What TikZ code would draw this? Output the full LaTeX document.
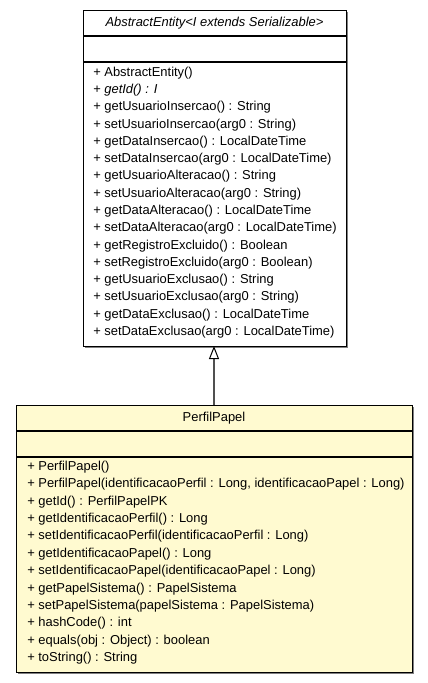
\documentclass[tikz,border=0pt]{standalone}
\usepackage{fontspec}
\setmainfont{Liberation Sans}
\usetikzlibrary{arrows.meta}
\definecolor{classfill}{RGB}{255,250,208}
\definecolor{shadowgray}{RGB}{128,128,128}
\definecolor{linkgray}{RGB}{80,80,80}
\begin{document}
\begin{tikzpicture}[x=0.75pt,y=-0.75pt,
  umlfont/.style={font=\fontsize{9.7}{11}\selectfont},
  member/.style={umlfont, anchor=west, inner sep=0pt},
  classname/.style={umlfont, inner sep=0pt},
  classbox/.style={draw=black, line width=0.75pt, anchor=north west,
    inner sep=0pt, outer sep=0pt},
  boxshadow/.style={fill=shadowgray, draw=none},
  compartment/.style={line width=1.2pt},
  generalization/.style={draw=linkgray, line width=1.4pt,
    -{Triangle[open, length=9.75pt, width=7.5pt, line width=0.75pt, color=black, fill=white]}}]
\useasboundingbox (0,0) rectangle (428,683);
\fill[white] (0,0) rectangle (428,683);

% AbstractEntity class
\fill[boxshadow] (85,12) rectangle (348,348);
\node[classbox, fill=white, minimum width=197.25pt, minimum height=252pt] (entity) at (83,10) {};
\draw[compartment] (83,36) -- (346,36);
\draw[compartment] (83,62) -- (346,62);
\node[classname] (entityname) at (214.5,23) {\itshape AbstractEntity<I extends Serializable>};
\foreach [count=\i from 0] \txt in {
  {+ AbstractEntity()},
  {+ \textit{getId() : I}},
  {+ getUsuarioInsercao() : String},
  {+ setUsuarioInsercao(arg0 : String)},
  {+ getDataInsercao() : LocalDateTime},
  {+ setDataInsercao(arg0 : LocalDateTime)},
  {+ getUsuarioAlteracao() : String},
  {+ setUsuarioAlteracao(arg0 : String)},
  {+ getDataAlteracao() : LocalDateTime},
  {+ setDataAlteracao(arg0 : LocalDateTime)},
  {+ getRegistroExcluido() : Boolean},
  {+ setRegistroExcluido(arg0 : Boolean)},
  {+ getUsuarioExclusao() : String},
  {+ setUsuarioExclusao(arg0 : String)},
  {+ getDataExclusao() : LocalDateTime},
  {+ setDataExclusao(arg0 : LocalDateTime)}}
  \node[member] (em\i) at (93,{73+17.27*\i}) {\txt};

% PerfilPapel class
\fill[boxshadow] (18,407) rectangle (414,674);
\node[classbox, fill=classfill, minimum width=297pt, minimum height=200.25pt] (papel) at (16,405) {};
\draw[compartment] (16,431) -- (412,431);
\draw[compartment] (16,457) -- (412,457);
\node[classname] (papelname) at (214,418) {PerfilPapel};
\foreach [count=\i from 0] \txt in {
  {+ PerfilPapel()},
  {+ PerfilPapel(identificacaoPerfil : Long, identificacaoPapel : Long)},
  {+ getId() : PerfilPapelPK},
  {+ getIdentificacaoPerfil() : Long},
  {+ setIdentificacaoPerfil(identificacaoPerfil : Long)},
  {+ getIdentificacaoPapel() : Long},
  {+ setIdentificacaoPapel(identificacaoPapel : Long)},
  {+ getPapelSistema() : PapelSistema},
  {+ setPapelSistema(papelSistema : PapelSistema)},
  {+ hashCode() : int},
  {+ equals(obj : Object) : boolean},
  {+ toString() : String}}
  \node[member] (pm\i) at (27,{467+17.4*\i}) {\txt};

% inheritance
\draw[generalization] (papel.north) -- (papel.north |- entity.south);
\end{tikzpicture}
\end{document}
